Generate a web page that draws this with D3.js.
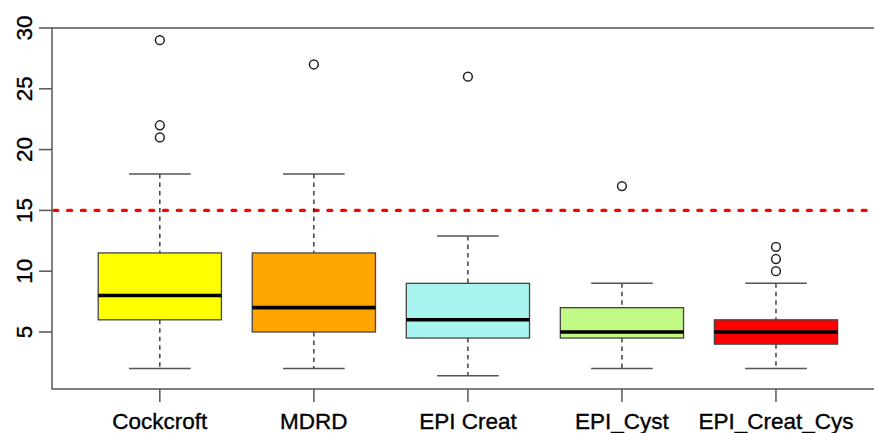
<!DOCTYPE html>
<html><head><meta charset="utf-8">
<script src="https://cdn.jsdelivr.net/npm/d3@7"></script>
<style>html,body{margin:0;padding:0;background:#fff;}svg{display:block;}</style>
</head><body>
<script>
const categories = ["Cockcroft", "MDRD", "EPI Creat", "EPI_Cyst", "EPI_Creat_Cys"];
const lowerWhisker = [2, 2, 1.4, 2, 2];
const q1 = [6, 5, 4.5, 4.5, 4];
const medians = [8, 7, 6, 5, 5];
const q3 = [11.5, 11.5, 9, 7, 6];
const upperWhisker = [18, 18, 12.9, 9, 9];
const outliers = [[29, 22, 21], [27], [26], [17], [12, 11, 10]];
const boxColors = ["#ffff00", "#ffa500", "#a8f5f0", "#c2f984", "#ff0000"];
const yTicks = [5, 10, 15, 20, 25, 30];
const refLine = 15;

const W = 874, H = 433;
const svg = d3.select("body").append("svg").attr("width", W).attr("height", H);

const x = d3.scaleLinear().domain([0.3, 5.7]).range([52, 883.8]);
const y = d3.scaleLinear().domain([0.31, 30]).range([389, 28]);
const step = x(2) - x(1);
const bw = step * 0.8, cw = bw * 0.5;
const font = "'Liberation Sans', Arial, sans-serif";

const data = categories.map((c, i) => ({
  c, i: i + 1, lo: lowerWhisker[i], q1: q1[i], med: medians[i], q3: q3[i], hi: upperWhisker[i],
  out: outliers[i], col: boxColors[i]
}));

// reference line
svg.append("line").attr("x1", x(0.3) + 2).attr("x2", W).attr("y1", y(refLine)).attr("y2", y(refLine))
  .attr("stroke", "#ff0000").attr("stroke-width", 3.4).attr("stroke-linecap", "round")
  .attr("stroke-dasharray", "3.8,9.9");

const g = svg.selectAll("g.box").data(data).enter().append("g");
// whiskers (dashed)
g.append("line").attr("x1", d => x(d.i)).attr("x2", d => x(d.i)).attr("y1", d => y(d.hi)).attr("y2", d => y(d.q3))
  .attr("stroke", "#333").attr("stroke-width", 1.4).attr("stroke-dasharray", "4.5,4");
g.append("line").attr("x1", d => x(d.i)).attr("x2", d => x(d.i)).attr("y1", d => y(d.q1)).attr("y2", d => y(d.lo))
  .attr("stroke", "#333").attr("stroke-width", 1.4).attr("stroke-dasharray", "4.5,4");
// caps
["hi", "lo"].forEach(k => {
  g.append("line").attr("x1", d => x(d.i) - cw / 2).attr("x2", d => x(d.i) + cw / 2)
    .attr("y1", d => y(d[k])).attr("y2", d => y(d[k])).attr("stroke", "#555").attr("stroke-width", 1.5);
});
// boxes
g.append("rect").attr("x", d => x(d.i) - bw / 2).attr("width", bw)
  .attr("y", d => y(d.q3)).attr("height", d => y(d.q1) - y(d.q3))
  .attr("fill", d => d.col).attr("stroke", "#444").attr("stroke-width", 1.3);
// medians
g.append("line").attr("x1", d => x(d.i) - bw / 2).attr("x2", d => x(d.i) + bw / 2)
  .attr("y1", d => y(d.med)).attr("y2", d => y(d.med)).attr("stroke", "#000").attr("stroke-width", 3.6);
// outliers
g.selectAll("circle").data(d => d.out.map(v => ({ i: d.i, v }))).enter().append("circle")
  .attr("cx", d => x(d.i)).attr("cy", d => y(d.v)).attr("r", 4.4)
  .attr("fill", "none").attr("stroke", "#222").attr("stroke-width", 1.5);

// frame
svg.append("rect").attr("x", x(0.3)).attr("y", y(30)).attr("width", x(5.7) - x(0.3)).attr("height", y(0.31) - y(30))
  .attr("fill", "none").attr("stroke", "#555").attr("stroke-width", 1.5);

// y axis ticks and labels
yTicks.forEach(t => {
  svg.append("line").attr("x1", x(0.3) - 13).attr("x2", x(0.3)).attr("y1", y(t)).attr("y2", y(t))
    .attr("stroke", "#555").attr("stroke-width", 1.5);
  svg.append("text").attr("transform", `translate(31.5,${y(t)}) rotate(-90)`)
    .attr("text-anchor", "middle").attr("font-family", font).attr("font-size", 22.5).attr("fill", "#000")
    .attr("stroke", "#000").attr("stroke-width", 0.35).text(t);
});
// x ticks and labels
data.forEach(d => {
  svg.append("line").attr("x1", x(d.i)).attr("x2", x(d.i)).attr("y1", y(0.31)).attr("y2", y(0.31) + 13)
    .attr("stroke", "#555").attr("stroke-width", 1.5);
  svg.append("text").attr("x", x(d.i)).attr("y", 428.5).attr("text-anchor", "middle")
    .attr("font-family", font).attr("font-size", 22.5).attr("fill", "#000")
    .attr("stroke", "#000").attr("stroke-width", 0.35).text(d.c);
});
</script>
</body></html>
